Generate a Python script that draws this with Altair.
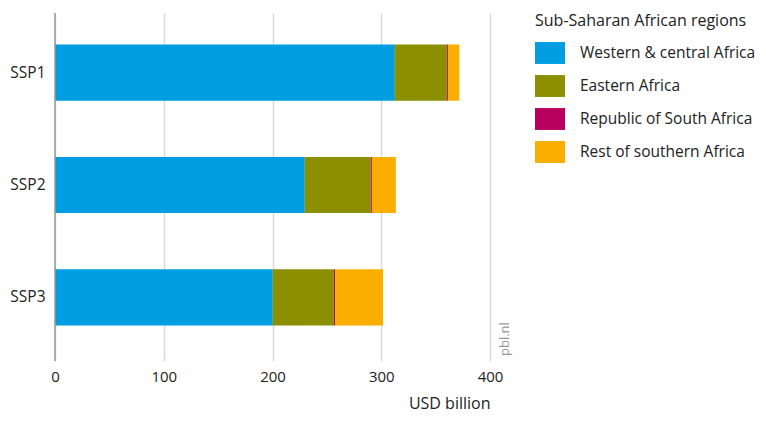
import altair as alt
import pandas as pd

scenarios = ["SSP1", "SSP2", "SSP3"]
regions = ["Western & central Africa", "Eastern Africa", "Republic of South Africa", "Rest of southern Africa"]
colors = ["#009ee0", "#8c8f00", "#b8005f", "#f9ae00"]
western = [312.5, 229.7, 200.3]
eastern = [47.8, 60.7, 56.1]
rsa = [1.0, 1.0, 1.2]
rest = [10.5, 22.0, 44.0]

rows = []
for i, s in enumerate(scenarios):
    for j, (r, vals) in enumerate(zip(regions, [western, eastern, rsa, rest])):
        rows.append({"scenario": s, "region": r, "value": vals[i], "ord": j})
df = pd.DataFrame(rows)

FONT = "Open Sans"

bars = alt.Chart(df).mark_bar().encode(
    y=alt.Y("scenario:N", sort=scenarios, title=None,
            scale=alt.Scale(paddingInner=0.5, paddingOuter=0.28),
            axis=alt.Axis(ticks=False, domain=False, labelPadding=10, labelFontSize=15.5,
                          labelColor="#222", labelFont=FONT, minExtent=47, maxExtent=47)),
    x=alt.X("value:Q", stack="zero", title="USD billion",
            scale=alt.Scale(domain=[0, 400], nice=False),
            axis=alt.Axis(values=[0, 100, 200, 300, 400], grid=True, gridColor="#d9d9d9",
                          gridWidth=1.5, domain=False, tickColor="#d9d9d9", tickSize=4,
                          tickWidth=1.5, labelFontSize=15, labelColor="#222", labelFont=FONT,
                          labelFlush=False,
                          labelPadding=8, titleFont=FONT, titleFontSize=16, titleFontWeight="normal",
                          titleColor="#222", titleAnchor="end", titlePadding=11)),
    color=alt.Color("region:N", sort=regions,
                    scale=alt.Scale(domain=regions, range=colors),
                    legend=alt.Legend(title="Sub-Saharan African regions", orient="none",
                                      legendX=480, legendY=0,
                                      symbolType="M-1,-0.73L1,-0.73L1,0.73L-1,0.73Z",
                                      symbolSize=900, symbolStrokeWidth=0, symbolOpacity=1,
                                      labelFont=FONT, labelFontSize=15.5, labelColor="#222",
                                      titleFont=FONT, titleFontSize=16, titleFontWeight="normal",
                                      titleColor="#222", titlePadding=9, rowPadding=7,
                                      labelOffset=15, labelLimit=300, titleLimit=300)),
    order=alt.Order("ord:Q"),
)

zero_line = alt.Chart(pd.DataFrame({"v": [0]})).mark_rule(color="#999", strokeWidth=1.5).encode(
    x=alt.X("v:Q"), y=alt.value(0), y2=alt.value(348)
)

credit = alt.Chart(pd.DataFrame({"t": ["pbl.nl"]})).mark_text(
    angle=270, align="left", baseline="middle", fontSize=13, color="#999", font=FONT
).encode(text="t:N", x=alt.value(450), y=alt.value(343))

chart = alt.layer(bars, zero_line, credit).properties(
    width=435, height=344, padding={"top": 4, "left": 0, "right": 0, "bottom": 4}
).configure_view(stroke=None)

chart.save("out.html", embed_options={"renderer": "svg", "actions": False})
